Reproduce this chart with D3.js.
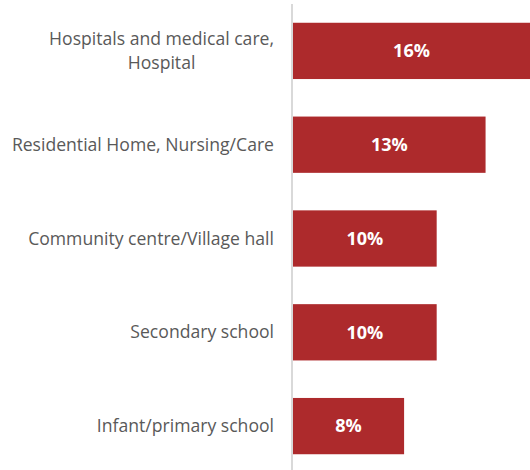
<!DOCTYPE html>
<html>
<head>
<meta charset="utf-8">
<script src="https://cdn.jsdelivr.net/npm/d3@7"></script>
<style>
  body { margin: 0; background: #fff; }
  svg { display: block; }
</style>
</head>
<body>
<svg id="chart" width="530" height="470"></svg>
<script>
// categories, top to bottom (each line of a label is one entry)
var categories = [
  ["Hospitals and medical care,", "Hospital"],
  ["Residential Home, Nursing/Care"],
  ["Community centre/Village hall"],
  ["Secondary school"],
  ["Infant/primary school"]
];
// share of respondents, percent
var values = [16, 13, 9.7, 9.7, 7.5];
var valueLabels = ["16%", "13%", "10%", "10%", "8%"];

var width = 530, height = 470;
var svg = d3.select("#chart");
var font = "'Open Sans', sans-serif";

var x = d3.scaleLinear()
    .domain([0, 16])
    .range([293, 530]);

var y = d3.scaleBand()
    .domain(d3.range(categories.length))
    .range([4, 473])
    .paddingInner(0.4)
    .paddingOuter(0.2);

// bars
svg.selectAll("rect.bar")
  .data(values)
  .enter().append("rect")
    .attr("class", "bar")
    .attr("x", x(0))
    .attr("y", function(d, i) { return y(i); })
    .attr("width", function(d) { return x(d) - x(0); })
    .attr("height", y.bandwidth())
    .attr("fill", "#ad2a2c");

// value labels in the bars
svg.selectAll("text.val")
  .data(values)
  .enter().append("text")
    .attr("class", "val")
    .attr("x", function(d) { return (x(0) + x(d)) / 2; })
    .attr("y", function(d, i) { return y(i) + y.bandwidth() / 2; })
    .attr("dy", "0.35em")
    .attr("text-anchor", "middle")
    .attr("fill", "#fff")
    .style("font-family", font)
    .style("font-size", "18px")
    .style("font-weight", "bold")
    .text(function(d, i) { return valueLabels[i]; });

// category labels, block right aligned, lines centred in the block
var labelRight = 274;
svg.selectAll("g.cat")
  .data(categories)
  .enter().append("g")
    .attr("class", "cat")
    .each(function(lines, i) {
      var g = d3.select(this);
      var texts = lines.map(function(t, j) {
        return g.append("text")
          .attr("y", y(i) + y.bandwidth() / 2 + (j - (lines.length - 1) / 2) * 24)
          .attr("dy", "0.35em")
          .attr("text-anchor", "middle")
          .attr("fill", "#595959")
          .style("font-family", font)
          .style("font-size", "17.6px")
          .text(t);
      });
      var maxW = d3.max(texts, function(t) { return t.node().getComputedTextLength(); });
      texts.forEach(function(t) { t.attr("x", labelRight - maxW / 2); });
    });

// axis line
svg.append("line")
  .attr("x1", 292).attr("x2", 292)
  .attr("y1", 4).attr("y2", height)
  .attr("stroke", "#d9d9d9")
  .attr("stroke-width", 2);
</script>
</body>
</html>
